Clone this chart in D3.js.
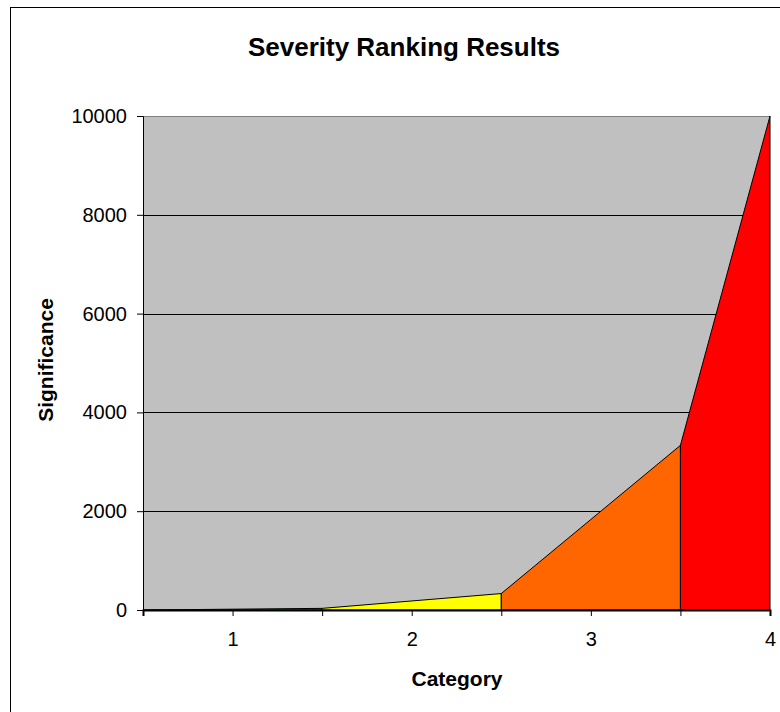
<!DOCTYPE html>
<html>
<head>
<meta charset="utf-8">
<script src="https://cdn.jsdelivr.net/npm/d3@7"></script>
<style>
  html, body { margin: 0; padding: 0; background: #fff; }
  svg { display: block; font-family: Arial, "Liberation Sans", sans-serif; }
</style>
</head>
<body>
<svg id="chart" width="780" height="712"></svg>
<script>
// Boundary positions of the ranking bands and the significance at each one
const bandEdges = [0.5, 1.5, 2.5, 3.5, 4];
const significance = [0, 33, 333, 3333, 10000];
const bandColors = ["#00CC00", "#FFFF00", "#FF6600", "#FF0000"];
const categoryTicks = [1, 2, 3, 4];
const yTicks = [0, 2000, 4000, 6000, 8000, 10000];

const svg = d3.select("#chart");
const margin = { left: 143, right: 770, top: 116, bottom: 610 };
const FONT = "Arial, 'Liberation Sans', sans-serif";

// outer chart frame
svg.append("rect")
  .attr("x", 10.5).attr("y", 7.5)
  .attr("width", 790).attr("height", 720)
  .attr("fill", "#fff").attr("stroke", "#000").attr("stroke-width", 1);

const x = d3.scaleLinear().domain([0.5, 4]).range([margin.left, margin.right]);
const y = d3.scaleLinear().domain([0, 10000]).range([margin.bottom, margin.top]);

// plot background
svg.append("rect")
  .attr("x", x(0.5)).attr("y", y(10000))
  .attr("width", x(4) - x(0.5)).attr("height", y(0) - y(10000))
  .attr("fill", "#C0C0C0");

// horizontal gridlines
svg.append("g").selectAll("line")
  .data(yTicks.filter(d => d > 0))
  .join("line")
  .attr("x1", x(0.5)).attr("x2", x(4))
  .attr("y1", d => Math.round(y(d)) + 0.5).attr("y2", d => Math.round(y(d)) + 0.5)
  .attr("stroke", d => d === 10000 ? "#808080" : "#000")
  .attr("stroke-width", 1);

// shaded bands, one polygon per category span
const area = d3.area()
  .x(d => x(d[0]))
  .y0(y(0))
  .y1(d => y(d[1]));

const bands = bandColors.map((c, i) => ({
  color: c,
  pts: [[bandEdges[i], significance[i]], [bandEdges[i + 1], significance[i + 1]]]
}));

svg.append("g").selectAll("path")
  .data(bands)
  .join("path")
  .attr("d", d => area(d.pts))
  .attr("fill", d => d.color)
  .attr("stroke", "#000")
  .attr("stroke-width", 1)
  .attr("stroke-linejoin", "miter");

// y axis
const yAxis = d3.axisLeft(y).tickValues(yTicks).tickSize(6).tickPadding(10)
  .tickFormat(d3.format("d"));
const gy = svg.append("g").attr("transform", `translate(${x(0.5)},0)`).call(yAxis);
gy.select(".domain").attr("stroke", "#000");
gy.selectAll(".tick line").attr("stroke", "#000");
gy.selectAll("text").attr("font-size", 20).attr("fill", "#000").attr("font-family", FONT);

// x axis: ticks at every half step, labels on whole categories
const xAxis = d3.axisBottom(x)
  .tickValues([0.5, 1, 1.5, 2, 2.5, 3, 3.5, 4])
  .tickSize(6).tickPadding(16)
  .tickFormat(d => categoryTicks.includes(d) ? String(d) : "");
const gx = svg.append("g").attr("transform", `translate(0,${y(0)})`).call(xAxis);
gx.select(".domain").attr("stroke", "#000").attr("stroke-width", 2);
gx.selectAll(".tick line").attr("stroke", "#000");
gx.selectAll("text").attr("font-size", 20).attr("fill", "#000").attr("font-family", FONT);

// title and axis titles
svg.append("text")
  .attr("x", 404).attr("y", 56)
  .attr("text-anchor", "middle")
  .attr("font-size", 26).attr("font-weight", "bold")
  .text("Severity Ranking Results");

svg.append("text")
  .attr("x", 457).attr("y", 686)
  .attr("text-anchor", "middle")
  .attr("font-size", 21).attr("font-weight", "bold")
  .text("Category");

svg.append("text")
  .attr("transform", "translate(53,360) rotate(-90)")
  .attr("text-anchor", "middle")
  .attr("font-size", 21).attr("font-weight", "bold")
  .text("Significance");
</script>
</body>
</html>
